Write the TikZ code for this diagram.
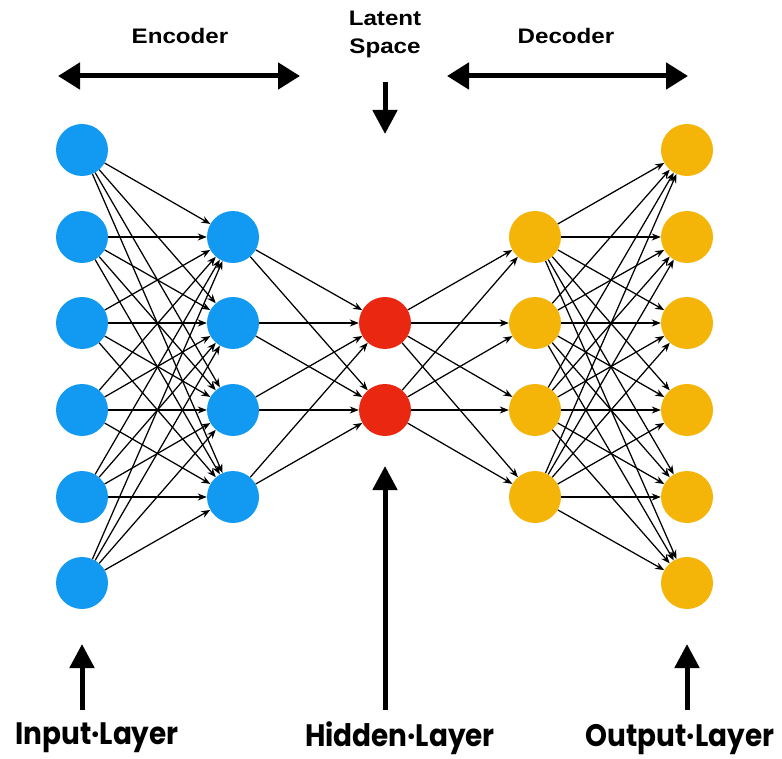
\documentclass[tikz,border=0pt]{standalone}
\usepackage{fontspec}
\setmainfont{Liberation Sans}
\newfontfamily\labfont{Poppins}
\usetikzlibrary{arrows.meta}
\definecolor{inblue}{RGB}{18,154,242}
\definecolor{latred}{RGB}{234,40,18}
\definecolor{outgold}{RGB}{245,180,8}
\newcommand{\topwide}[1]{\scalebox{1.15}[1]{#1}}
\newcommand{\botnarrow}[1]{\scalebox{0.9}[1]{#1}}
\begin{document}
\begin{tikzpicture}[x=1pt,y=-1pt,
  neuron/.style={circle,minimum size=52pt,inner sep=0pt},
  conn/.style={line width=1.25pt,-{Stealth[length=9pt,width=7pt]}},
  bigarrow/.style={line width=5pt,-{Triangle[length=24pt,width=24pt]}},
  bigdouble/.style={line width=5pt,{Triangle[length=22pt,width=26pt]}-{Triangle[length=22pt,width=26pt]}},
  toplabel/.style={font=\fontsize{21}{28}\selectfont\bfseries,align=center},
  botlabel/.style={font=\labfont\fontsize{31}{33}\selectfont\bfseries}]
\useasboundingbox (0,0) rectangle (782,759);
% nodes
\foreach \i/\y in {1/150,2/237,3/323,4/410,5/497,6/583}
  \node[neuron,fill=inblue] (in\i) at (82,\y) {};
\foreach \i/\y in {1/237,2/323,3/410,4/497}
  \node[neuron,fill=inblue] (e\i) at (233,\y) {};
\foreach \i/\y in {1/323,2/410}
  \node[neuron,fill=latred] (l\i) at (385,\y) {};
\foreach \i/\y in {1/237,2/323,3/410,4/497}
  \node[neuron,fill=outgold] (d\i) at (535,\y) {};
\foreach \i/\y in {1/150,2/237,3/323,4/410,5/497,6/583}
  \node[neuron,fill=outgold] (o\i) at (687,\y) {};
% connections
\foreach \a in {1,...,6} \foreach \b in {1,...,4} \draw[conn] (in\a) -- (e\b);
\foreach \a in {1,...,4} \foreach \b in {1,2} \draw[conn] (e\a) -- (l\b);
\foreach \a in {1,2} \foreach \b in {1,...,4} \draw[conn] (l\a) -- (d\b);
\foreach \a in {1,...,4} \foreach \b in {1,...,6} \draw[conn] (d\a) -- (o\b);
% top labels and arrows
\node[toplabel] (enc) at (180,36) {\topwide{Encoder}};
\node[toplabel] (lat) at (385,34) {\topwide{Latent}\\\topwide{Space}};
\node[toplabel] (dec) at (566,36) {\topwide{Decoder}};
\coordinate (encL) at (58,76);
\coordinate (encR) at (300,76);
\coordinate (decL) at (447,76);
\coordinate (decR) at (688,76);
\coordinate (latA) at (385,82);
\coordinate (latB) at (385,134);
\draw[bigdouble] (encL) -- (encR);
\draw[bigdouble] (decL) -- (decR);
\draw[bigarrow] (latA) -- (latB);
% bottom arrows and labels
\coordinate (inA) at (82,710);
\coordinate (inB) at (82,644);
\coordinate (hidA) at (385,710);
\coordinate (hidB) at (385,466);
\coordinate (outA) at (687,710);
\coordinate (outB) at (687,644);
\draw[bigarrow] (inA) -- (inB);
\draw[bigarrow] (hidA) -- (hidB);
\draw[bigarrow] (outA) -- (outB);
\node[botlabel] (inlab) at (97,738) {\botnarrow{Input·Layer}};
\node[botlabel] (hidlab) at (400,738) {\botnarrow{Hidden·Layer}};
\node[botlabel] (outlab) at (680,740) {\botnarrow{Output·Layer}};
\end{tikzpicture}
\end{document}
